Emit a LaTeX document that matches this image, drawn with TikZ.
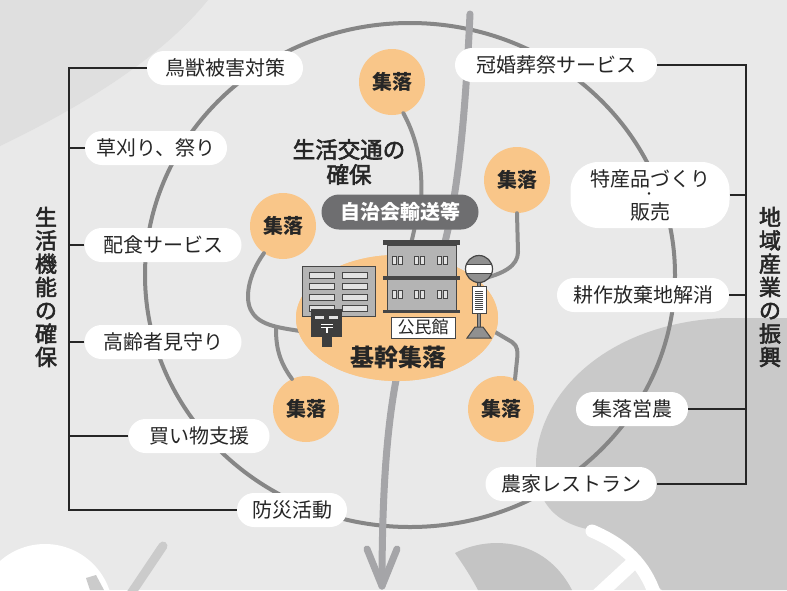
\documentclass[tikz,border=0pt]{standalone}
\usepackage{fontspec}
\setmainfont{Noto Sans CJK JP}
\newfontfamily\jpmedium[FakeBold=2.5]{Noto Sans CJK JP}
\usetikzlibrary{shapes.geometric}

\definecolor{paper}{HTML}{E9E9E9}
\definecolor{papershade}{HTML}{DFDFDF}
\definecolor{hill}{HTML}{C9C9C9}
\definecolor{leafgray}{HTML}{C4C4C4}
\definecolor{stemgray}{HTML}{CBCBCB}
\definecolor{ring}{HTML}{868686}
\definecolor{mainroadc}{HTML}{A5A5A8}
\definecolor{laneroadc}{HTML}{8C8C8C}
\definecolor{village}{HTML}{F9C689}
\definecolor{ink}{HTML}{262626}
\definecolor{pillgray}{HTML}{6E6E70}
\definecolor{wallgray}{HTML}{B4B4B4}
\definecolor{edgegray}{HTML}{464646}
\definecolor{glass}{HTML}{E2E2E2}
\definecolor{postbox}{HTML}{3E3E3E}
\definecolor{polegray}{HTML}{909090}

\tikzset{
  lbl/.style={rectangle, rounded corners=17pt, fill=white, minimum height=34pt,
    inner sep=0pt, text=ink, font=\fontsize{20}{24}\selectfont},
  villagenode/.style={circle, fill=village, minimum size=66pt, inner sep=0pt,
    text=ink, font=\bfseries\fontsize{20}{20}\selectfont},
  mainroad/.style={line width=7pt, draw=mainroadc, line cap=round, line join=round},
  lane/.style={line width=4pt, draw=laneroadc, line cap=round, line join=round},
  bracket/.style={draw=ink, line width=1.3pt},
  sidetitle/.style={align=center, text=ink, inner sep=0pt,
    font=\jpmedium\fontsize{22}{23.3}\selectfont},
  bldedge/.style={draw=edgegray, line width=1pt},
  window/.style={fill=glass, draw=edgegray, line width=0.8pt},
}

\begin{document}
\begin{tikzpicture}[x=1pt, y=-1pt]
\useasboundingbox (0,0) rectangle (787,590);

% paper and soft background motifs
\fill[paper] (0,0) rectangle (787,590);
\fill[papershade] (0,0) -- (0,146) .. controls (75,110) and (160,60) .. (208,0) -- cycle;
\fill[hill] (787,318) -- (725,318) .. controls (620,322) and (548,380) .. (537,450)
  .. controls (532,490) and (545,522) .. (592,530) -- (662,590) -- (787,590) -- cycle;
\fill[leafgray] (455,553) .. controls (490,535) and (545,538) .. (572,590)
  -- (478,590) .. controls (470,575) and (462,563) .. (455,553) -- cycle;
\draw[white, line width=13pt, line cap=round] (592,531) .. controls (625,545) and (645,565) .. (655,595);
\draw[white, line width=14pt] (596,597) -- (636,560);
\fill[white] (45,612) circle[radius=68pt];
\fill[stemgray] (86,578) -- (96,575) -- (104,590) -- (90,590) -- cycle;
\draw[stemgray, line width=9pt, line cap=round] (163,546) -- (128,598);

% outer ring
\draw[ring, line width=4pt] (410,275) ellipse [x radius=265pt, y radius=252pt];

% main road with arrow
\coordinate (roadtop) at (470,14);
\coordinate (roadend) at (382,586);
\coordinate (arrowL) at (367,549);
\coordinate (arrowR) at (397,549);
\draw[mainroad] (roadtop) .. controls (466,100) and (460,180) .. (446,238) -- (430,300)
  -- (397,375) .. controls (386,430) and (382,500) .. (roadend);
\draw[mainroad] (arrowL) -- (roadend) -- (arrowR);

% villages
\node[villagenode] (s1) at (392,82) {集落};
\node[villagenode] (s2) at (517,180) {集落};
\node[villagenode] (s3) at (283,226) {集落};
\node[villagenode] (s4) at (306,409) {集落};
\node[villagenode] (s5) at (501,409) {集落};

% core settlement
\node[ellipse, fill=village, minimum width=202pt, minimum height=126pt, inner sep=0pt] (core) at (397,318) {};

% lanes linking the villages to the core
\coordinate (hallA) at (411,244);
\coordinate (signR) at (481,279);
\coordinate (coreL) at (300,331);
\coordinate (coreR) at (495,332);
\draw[lane] (s1.290) .. controls (418,140) and (423,170) .. (421,200) -- (hallA);
\draw[lane] (s2.south) -- (518,252) .. controls (518,266) and (503,274) .. (signR);
\draw[lane] (s3.235) .. controls (248,275) and (244,300) .. (252,312)
  .. controls (260,326) and (282,328) .. (coreL);
\draw[lane] (276,328) .. controls (276,345) and (278,360) .. (s4.115);
\draw[lane] (coreR) -- (512,342) .. controls (518,346) and (518,352) .. (517,360) -- (s5.65);

% redraw the core over the lane ends
\fill[village] (core.center) ellipse [x radius=101pt, y radius=63pt];

% transport label and title
\node[rectangle, rounded corners=17.5pt, fill=pillgray, minimum width=157pt, minimum height=35pt,
  inner sep=0pt, text=white, font=\bfseries\fontsize{20}{20}\selectfont] (bus) at (400,212) {自治会輸送等};
\node[align=center, text=ink, inner sep=0pt, font=\jpmedium\fontsize{22.5}{25}\selectfont] (transport)
  at (349,162) {生活交通の\\確保};

% office building with windows
\fill[wallgray] (302,266) rectangle (375,316);
\draw[bldedge] (302,266) rectangle (375,316);
\foreach \y in {272,283,294,305} {
  \draw[window] (309,\y) rectangle (334,\y+6);
  \draw[window] (342,\y) rectangle (367,\y+6);
}
% post box
\fill[postbox] (322,336) rectangle (332,347);
\fill[postbox] (311,309) rectangle (342,337);
\fill[glass] (315,315.5) rectangle (324,319);
\fill[glass] (329,315.5) rectangle (338,319);
\draw[white, line width=1.2pt] (321,324.5) -- (333,324.5) (321,327.5) -- (333,327.5) (327,327.5) -- (327,333);

% community hall
\fill[wallgray] (387,245) rectangle (456,310);
\draw[bldedge] (387,245) rectangle (456,310);
\fill[edgegray] (383,240) rectangle (460,245);
\fill[edgegray] (383,276) rectangle (460,280);
\fill[edgegray] (383,310) rectangle (460,313);
\foreach \x in {392,414,437} {
  \foreach \y in {256,290} {
    \draw[window] (\x,\y) rectangle (\x+4.5,\y+8.5);
    \draw[window] (\x+6,\y) rectangle (\x+10.5,\y+8.5);
  }
}
\node[rectangle, fill=white, draw=edgegray, line width=1pt, minimum width=64pt, minimum height=21pt,
  inner sep=0pt, text=ink, font=\fontsize{17}{17}\selectfont] (hall) at (423,327.5) {公民館};

% bus stop
\fill[polegray] (477.5,281) rectangle (480.5,327);
\draw[edgegray, line width=0.8pt] (477.5,281) -- (477.5,327) (480.5,281) -- (480.5,327);
\fill[polegray] (475,327) -- (483,327) -- (491,338) -- (467,338) -- cycle;
\draw[bldedge] (475,327) -- (483,327) -- (491,338) -- (467,338) -- cycle;
\fill[white] (472,286) rectangle (486,313);
\draw[bldedge] (472,286) rectangle (486,313);
\foreach \y in {291,293,...,309} \draw[edgegray, line width=0.7pt] (475,\y) -- (483,\y);
\fill[polegray] (479,269) circle[radius=13.5pt];
\begin{scope}
  \clip (479,269) circle[radius=13.5pt];
  \fill[white] (464,264) rectangle (494,273);
  \draw[edgegray, line width=1pt] (464,264) -- (494,264) (464,273) -- (494,273);
\end{scope}
\draw[edgegray, line width=1.2pt] (479,269) circle[radius=13.5pt];

\node[text=ink, inner sep=0pt, font=\bfseries\fontsize{24}{24}\selectfont] (coretext) at (398,357) {基幹集落};

% left column: daily-life functions
\node[lbl, minimum width=156pt] (l1) at (225,68) {鳥獣被害対策};
\node[lbl, minimum width=142pt] (l2) at (156,148) {草刈り、祭り};
\node[lbl, minimum width=157pt] (l3) at (163,245) {配食サービス};
\node[lbl, minimum width=157pt] (l4) at (163,342) {高齢者見守り};
\node[lbl, minimum width=141pt] (l5) at (199,436) {買い物支援};
\node[lbl, minimum width=110pt] (l6) at (292,510) {防災活動};

\coordinate (lbar) at (69,0);
\draw[bracket] (l1.west) -- (l1.west -| lbar) -- (l6.west -| lbar) -- (l6.west);
\foreach \n in {l2,l3,l4,l5} \draw[bracket] (\n.west) -- (\n.west -| lbar);
\node[sidetitle] (lefttitle) at (46,287) {生\\活\\機\\能\\の\\確\\保};

% right column: local industry
\node[lbl, minimum width=202pt] (r1) at (556,65) {冠婚葬祭サービス};
\node[lbl, rounded corners=28pt, minimum width=159pt, minimum height=66pt] (r2) at (650,195) {};
\node[text=ink, inner sep=0pt, font=\fontsize{20}{20}\selectfont] (r2a) at (650,179) {特産品づくり};
\node[text=ink, inner sep=0pt, font=\fontsize{12}{12}\selectfont] (r2b) at (649,196) {・};
\node[text=ink, inner sep=0pt, font=\fontsize{20}{20}\selectfont] (r2c) at (650,212) {販売};
\node[lbl, minimum width=172pt] (r3) at (643,295) {耕作放棄地解消};
\node[lbl, minimum width=112pt] (r4) at (632,409) {集落営農};
\node[lbl, minimum width=171pt] (r5) at (571,484) {農家レストラン};

\coordinate (rbar) at (746,0);
\draw[bracket] (r1.east) -- (r1.east -| rbar) -- (r5.east -| rbar) -- (r5.east);
\foreach \n in {r2,r3,r4} \draw[bracket] (\n.east) -- (\n.east -| rbar);
\node[sidetitle] (righttitle) at (770,287) {地\\域\\産\\業\\の\\振\\興};
\end{tikzpicture}
\end{document}
